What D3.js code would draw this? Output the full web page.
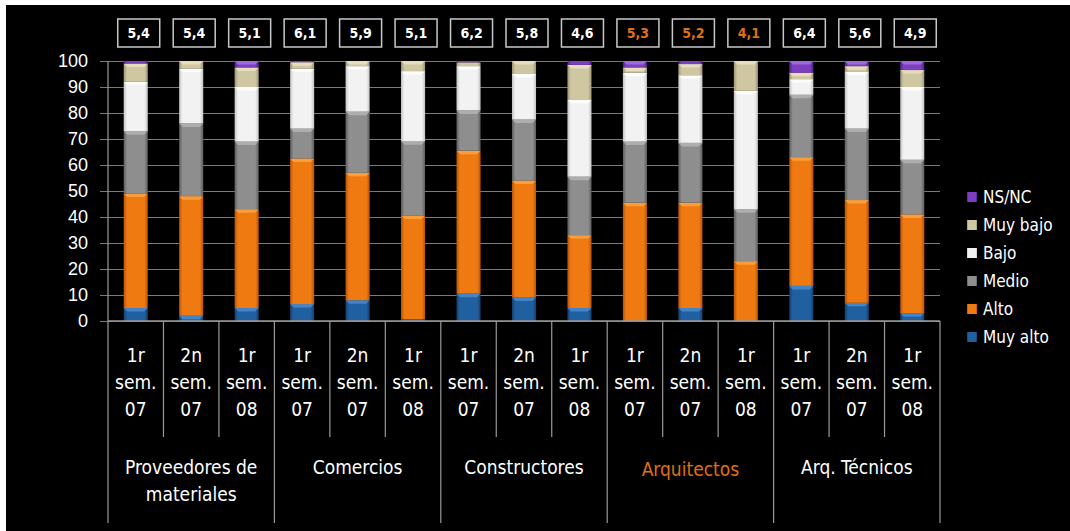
<!DOCTYPE html>
<html>
<head>
<meta charset="utf-8">
<script src="https://cdn.jsdelivr.net/npm/d3@7"></script>
<style>
  html, body { margin: 0; padding: 0; background: #fff; }
  svg { display: block; }
  .narrow { font-family: "Liberation Sans Narrow", "DejaVu Sans Condensed", "Roboto Condensed", sans-serif; }
</style>
</head>
<body>
<script>
// values (percent, stacked to 100)
var groups = ["Proveedores de|materiales", "Comercios", "Constructores", "Arquitectos", "Arq. Técnicos"];
var periods = [["1r", "sem.", "07"], ["2n", "sem.", "07"], ["1r", "sem.", "08"]];
var seriesNames = ["Muy alto", "Alto", "Medio", "Bajo", "Muy bajo", "NS/NC"];

var muyAlto = [5, 2, 5, 6.5, 8, 0.6, 10.5, 9, 5, 0, 5, 0, 13.5, 7, 3];
var alto    = [44, 46, 38, 56, 49, 40, 55, 45, 28, 45.5, 40.5, 23, 49.5, 39.5, 38];
var medio   = [24, 28, 26, 11.5, 23.5, 28.5, 15.5, 23.5, 22.5, 23.5, 23, 20, 24, 27.5, 21];
var bajo    = [19, 21, 21, 23, 17.5, 27, 17, 17.5, 29.5, 26.5, 26, 45.5, 6, 22, 28];
var muyBajo = [7, 3, 7.5, 2.5, 2, 3.9, 1.5, 5, 13.5, 2, 4.3, 11.5, 2.5, 2, 6.5];
var nsnc    = [1, 0, 2.5, 0.5, 0, 0, 0.5, 0, 1.5, 2.5, 1.2, 0, 4.5, 2, 3.5];

var scores = [5.4, 5.4, 5.1, 6.1, 5.9, 5.1, 6.2, 5.8, 4.6, 5.3, 5.2, 4.1, 6.4, 5.6, 4.9];
var yTicks = [0, 10, 20, 30, 40, 50, 60, 70, 80, 90, 100];

var width = 1070,
    height = 531;

var colors = {
  "Muy alto": ["#163f6c", "#2160a0", "#4f8fd4"],
  "Alto":     ["#b85406", "#f07a12", "#ffaa4a"],
  "Medio":    ["#5c5c5c", "#8e8e8e", "#b8b8b8"],
  "Bajo":     ["#c4c4c4", "#f2f2f2", "#ffffff"],
  "Muy bajo": ["#9e9678", "#cfc6a2", "#ece4c4"],
  "NS/NC":    ["#4f2385", "#7d3fc0", "#a878e6"]
};

var svg = d3.select("body")
            .append("svg")
            .attr("width", width)
            .attr("height", height);

svg.append("rect")
   .attr("x", 6).attr("y", 5)
   .attr("width", width - 6).attr("height", height - 5)
   .attr("fill", "#000");

// bar gradients (bevel look)
var defs = svg.append("defs");
seriesNames.forEach(function(name, k) {
  var c = colors[name];
  var gr = defs.append("linearGradient")
               .attr("id", "grad" + k)
               .attr("x1", "0").attr("x2", "1").attr("y1", "0").attr("y2", "0");
  gr.append("stop").attr("offset", "0").attr("stop-color", c[0]);
  gr.append("stop").attr("offset", "0.14").attr("stop-color", c[1]);
  gr.append("stop").attr("offset", "0.86").attr("stop-color", c[1]);
  gr.append("stop").attr("offset", "1").attr("stop-color", c[0]);
});

var x = d3.scaleBand()
          .domain(d3.range(scores.length))
          .range([108, 940])
          .paddingInner(0.566)
          .paddingOuter(0.283);

var y = d3.scaleLinear()
          .domain([0, 100])
          .range([321, 61]);

// grid lines + ticks
svg.append("g")
   .attr("transform", "translate(100,0)")
   .call(d3.axisRight(y).tickValues(yTicks).tickSize(840).tickFormat(""))
   .call(function(g) {
     g.select(".domain").remove();
     g.selectAll("line").attr("stroke", "#7a7a7a").attr("stroke-width", 1.2);
   });

svg.append("g")
   .attr("transform", "translate(100,0)")
   .call(d3.axisLeft(y).tickValues(yTicks).tickSize(0).tickPadding(12))
   .call(function(g) {
     g.select(".domain").remove();
     g.selectAll("text")
      .attr("fill", "#fff")
      .style("font-family", "'Liberation Sans', Arial, sans-serif")
      .style("font-size", "18px");
   });

// stacked bars
var keys = ["muyAlto", "alto", "medio", "bajo", "muyBajo", "nsnc"];
var cols = [muyAlto, alto, medio, bajo, muyBajo, nsnc];
var table = scores.map(function(s, i) {
  var row = { idx: i };
  keys.forEach(function(k, j) { row[k] = cols[j][i]; });
  return row;
});

var stacked = d3.stack().keys(keys)(table);

var layers = svg.append("g")
  .selectAll("g")
  .data(stacked)
  .enter()
  .append("g")
    .attr("fill", function(d, k) { return "url(#grad" + k + ")"; });

layers.selectAll("rect")
  .data(function(d) { return d.filter(function(p) { return p[1] - p[0] > 0; }); })
  .enter()
  .append("rect")
    .attr("x", function(d) { return x(d.data.idx); })
    .attr("y", function(d) { return y(d[1]); })
    .attr("width", x.bandwidth())
    .attr("height", function(d) { return y(d[0]) - y(d[1]); });

// small light bevel on top of each segment
layers.each(function(d, k) {
  var hl = colors[seriesNames[k]][2];
  d3.select(this).selectAll("path.bevel")
    .data(d.filter(function(p) { return y(p[0]) - y(p[1]) > 4; }))
    .enter()
    .append("path")
      .attr("class", "bevel")
      .attr("fill", hl)
      .attr("opacity", 0.75)
      .attr("d", function(p) {
        var x0 = x(p.data.idx), x1 = x0 + x.bandwidth(), t = y(p[1]), h = 3.5;
        return "M" + x0 + "," + t + "L" + x1 + "," + t + "L" + (x1 - h) + "," + (t + h) +
               "L" + (x0 + h) + "," + (t + h) + "Z";
      });
});

// axis lines
svg.append("line")
   .attr("x1", 108).attr("x2", 940).attr("y1", y(0)).attr("y2", y(0))
   .attr("stroke", "#9a9a9a").attr("stroke-width", 1.5);

var step = x.step();
d3.range(scores.length + 1).forEach(function(j) {
  var xx = x.range()[0] + j * step;
  svg.append("line")
     .attr("x1", xx).attr("x2", xx)
     .attr("y1", j === 0 ? y(100) : y(0))
     .attr("y2", j % 3 === 0 ? 523 : 437)
     .attr("stroke", "#9a9a9a").attr("stroke-width", 1.2);
});

// period labels
var periodG = svg.append("g").attr("class", "narrow")
                 .attr("fill", "#fff").style("font-size", "19px")
                 .attr("text-anchor", "middle");
scores.forEach(function(s, i) {
  var p = periods[i % 3];
  p.forEach(function(t, r) {
    periodG.append("text")
           .attr("x", x(i) + x.bandwidth() / 2)
           .attr("y", 362 + r * 27)
           .text(t);
  });
});

// group labels
var groupG = svg.append("g").attr("class", "narrow")
                .style("font-size", "19px").attr("text-anchor", "middle");
groups.forEach(function(gname, g) {
  var cx = x.range()[0] + (g * 3 + 1.5) * step;
  gname.split("|").forEach(function(t, r) {
    groupG.append("text")
          .attr("x", cx)
          .attr("y", 474 + r * 27 + (gname === "Arquitectos" ? 2 : 0))
          .attr("fill", gname === "Arquitectos" ? "#e0700c" : "#fff")
          .text(t);
  });
});

// score boxes
var boxG = svg.append("g").attr("class", "narrow");
scores.forEach(function(s, i) {
  var cx = x(i) + x.bandwidth() / 2 + 3;
  boxG.append("rect")
      .attr("x", cx - 21).attr("y", 19)
      .attr("width", 42).attr("height", 28)
      .attr("fill", "#000")
      .attr("stroke", "#c8c8c8").attr("stroke-width", 1.5);
  boxG.append("text")
      .attr("x", cx).attr("y", 38)
      .attr("text-anchor", "middle")
      .attr("fill", (i >= 9 && i <= 11) ? "#e0700c" : "#fff")
      .style("font-size", "14px").style("font-weight", "bold")
      .text(d3.format(".1f")(s).replace(".", ","));
});

// legend
var legend = svg.append("g").attr("class", "narrow");
seriesNames.slice().reverse().forEach(function(name, r) {
  var k = seriesNames.indexOf(name);
  var ly = 197 + r * 28;
  legend.append("rect")
        .attr("x", 967).attr("y", ly - 5)
        .attr("width", 10).attr("height", 10)
        .attr("fill", "url(#grad" + k + ")");
  legend.append("text")
        .attr("x", 983).attr("y", ly + 6)
        .attr("fill", "#fff")
        .style("font-size", "17px")
        .text(name);
});
</script>
</body>
</html>
